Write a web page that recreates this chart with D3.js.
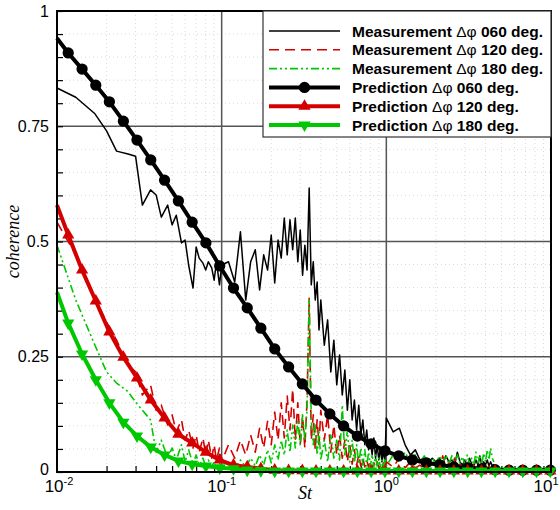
<!DOCTYPE html>
<html>
<head>
<meta charset="utf-8">
<script src="https://cdn.jsdelivr.net/npm/d3@7"></script>
<style>
  body { margin: 0; background: #fff; }
  svg { display: block; }
</style>
</head>
<body>
<svg id="chart" width="560" height="510"></svg>
<script>

// prediction curves, sampled at the marker positions (St)
var stPred = [0.0100, 0.0117, 0.0142, 0.0172, 0.0208, 0.0253, 0.0306, 0.0371, 0.0450, 0.0546,
    0.0662, 0.0802, 0.0973, 0.118, 0.143, 0.173, 0.210, 0.255, 0.309, 0.374,
    0.454, 0.550, 0.667, 0.809, 0.981, 1.19, 1.44, 1.75, 2.12, 2.57,
    3.12, 3.78, 4.58, 5.56, 6.74, 8.17, 9.90];
var pred060 = [0.941, 0.909, 0.874, 0.839, 0.803, 0.761, 0.720, 0.677, 0.633, 0.588,
    0.542, 0.497, 0.447, 0.399, 0.356, 0.312, 0.267, 0.228, 0.191, 0.156,
    0.126, 0.100, 0.078, 0.061, 0.046, 0.035, 0.026, 0.020, 0.015, 0.011,
    0.009, 0.007, 0.005, 0.004, 0.004, 0.004, 0.004];
var pred120 = [0.579, 0.514, 0.438, 0.371, 0.304, 0.249, 0.204, 0.156, 0.117, 0.082,
    0.063, 0.043, 0.026, 0.015, 0.011, 0.007, 0.004, 0.003, 0.003, 0.002,
    0.002, 0.002, 0.002, 0.002, 0.002, 0.002, 0.002, 0.002, 0.002, 0.002,
    0.002, 0.002, 0.002, 0.002, 0.002, 0.002, 0.002];
var pred180 = [0.390, 0.323, 0.256, 0.200, 0.150, 0.108, 0.078, 0.054, 0.037, 0.024,
    0.017, 0.013, 0.009, 0.007, 0.004, 0.003, 0.002, 0.002, 0.002, 0.002,
    0.002, 0.002, 0.002, 0.002, 0.002, 0.002, 0.002, 0.002, 0.002, 0.002,
    0.002, 0.002, 0.002, 0.002, 0.002, 0.002, 0.002];

// measured spectra
var stMeas = [0.010, 0.013, 0.017, 0.020, 0.023, 0.027, 0.030, 0.033, 0.037, 0.040,
    0.043, 0.047, 0.050, 0.053, 0.057, 0.060, 0.063, 0.067, 0.070, 0.073,
    0.077, 0.080, 0.083, 0.087, 0.090, 0.093, 0.097,
    0.10, 0.11, 0.12, 0.13, 0.14, 0.15, 0.16, 0.17, 0.18, 0.19,
    0.20, 0.21, 0.22, 0.23, 0.24, 0.25, 0.26, 0.27, 0.28, 0.29,
    0.30, 0.31, 0.32, 0.33, 0.34, 0.35, 0.36, 0.37, 0.38, 0.39, 0.40,
    0.42, 0.44, 0.46, 0.48, 0.50, 0.52, 0.54, 0.56, 0.58, 0.60,
    0.62, 0.64, 0.66, 0.68, 0.70, 0.72, 0.74, 0.76, 0.78, 0.80,
    0.82, 0.84, 0.86, 0.88, 0.90, 0.92, 0.94, 0.96, 0.98, 1.00,
    1.1, 1.2, 1.3, 1.4, 1.5, 1.6, 1.7, 1.8, 1.9, 2.0,
    2.1, 2.2, 2.3, 2.4, 2.5, 2.6, 2.7, 2.8, 2.9, 3.0,
    3.1, 3.2, 3.3, 3.4, 3.5, 3.6, 3.7, 3.8, 3.9, 4.0,
    4.1, 4.2, 4.3, 4.4, 4.5];
var meas060 = [0.833, 0.813, 0.777, 0.740, 0.696, 0.690, 0.685, 0.579, 0.612, 0.601,
    0.553, 0.579, 0.536, 0.557, 0.497, 0.503, 0.449, 0.399, 0.488, 0.464,
    0.453, 0.438, 0.456, 0.443, 0.416, 0.456, 0.406,
    0.449, 0.456, 0.412, 0.521, 0.373, 0.456, 0.482, 0.395, 0.471, 0.438,
    0.514, 0.410, 0.503, 0.464, 0.551, 0.471, 0.547, 0.482, 0.551, 0.456,
    0.525, 0.427, 0.492, 0.438, 0.616, 0.406, 0.456, 0.373, 0.412, 0.308, 0.373,
    0.275, 0.330, 0.217, 0.286, 0.189, 0.254, 0.167, 0.221, 0.134, 0.200,
    0.113, 0.156, 0.091, 0.145, 0.080, 0.113, 0.059, 0.091, 0.048, 0.069,
    0.037, 0.074, 0.030, 0.059, 0.026, 0.052, 0.022, 0.048, 0.022, 0.117,
    0.087, 0.095, 0.059, 0.037, 0.048, 0.026, 0.030, 0.020, 0.030, 0.022,
    0.030, 0.017, 0.035, 0.022, 0.026, 0.015, 0.043, 0.022, 0.015, 0.026,
    0.013, 0.030, 0.017, 0.013, 0.026, 0.015, 0.035, 0.013, 0.022, 0.015,
    0.026, 0.013, 0.022, 0.013, 0.017];
var meas120 = [0.542, 0.471, 0.377, 0.325, 0.286, 0.232, 0.217, 0.167, 0.189, 0.134,
    0.145, 0.102, 0.124, 0.087, 0.113, 0.069, 0.091, 0.052, 0.080, 0.043,
    0.074, 0.037, 0.069, 0.030, 0.059, 0.026, 0.052,
    0.022, 0.059, 0.030, 0.069, 0.037, 0.080, 0.043, 0.095, 0.052, 0.110,
    0.059, 0.130, 0.069, 0.150, 0.074, 0.165, 0.091, 0.180, 0.069, 0.150,
    0.059, 0.120, 0.052, 0.156, 0.377, 0.069, 0.124, 0.048, 0.113, 0.059, 0.134,
    0.069, 0.124, 0.043, 0.102, 0.037, 0.080, 0.030, 0.069, 0.022, 0.059,
    0.017, 0.048, 0.015, 0.037, 0.013, 0.030, 0.011, 0.026, 0.011, 0.022,
    0.009, 0.020, 0.009, 0.022, 0.009, 0.017, 0.007, 0.020, 0.009, 0.022,
    0.011, 0.030, 0.009, 0.022, 0.009, 0.015, 0.007, 0.022, 0.009, 0.015,
    0.007, 0.035, 0.009, 0.020, 0.007, 0.030, 0.009, 0.017, 0.007, 0.015,
    0.007, 0.022, 0.009, 0.015, 0.007, 0.017, 0.009, 0.015, 0.007, 0.017,
    0.007, 0.013, 0.007, 0.013, 0.009];
var meas180 = [0.492, 0.373, 0.275, 0.217, 0.193, 0.174, 0.152, 0.134, 0.113, 0.043,
    0.069, 0.030, 0.052, 0.026, 0.059, 0.022, 0.048, 0.017, 0.037, 0.015,
    0.030, 0.013, 0.026, 0.011, 0.022, 0.009, 0.020,
    0.009, 0.022, 0.009, 0.026, 0.011, 0.030, 0.013, 0.037, 0.015, 0.048,
    0.020, 0.059, 0.026, 0.069, 0.037, 0.091, 0.043, 0.102, 0.052, 0.113,
    0.059, 0.124, 0.069, 0.134, 0.373, 0.113, 0.059, 0.102, 0.037, 0.087, 0.026,
    0.069, 0.022, 0.080, 0.030, 0.069, 0.026, 0.145, 0.037, 0.091, 0.022,
    0.069, 0.020, 0.059, 0.017, 0.052, 0.015, 0.048, 0.013, 0.043, 0.013,
    0.037, 0.011, 0.037, 0.011, 0.030, 0.011, 0.026, 0.009, 0.030, 0.013,
    0.037, 0.022, 0.043, 0.022, 0.037, 0.020, 0.035, 0.017, 0.030, 0.017,
    0.035, 0.020, 0.037, 0.017, 0.035, 0.017, 0.037, 0.020, 0.033, 0.015,
    0.037, 0.017, 0.030, 0.015, 0.043, 0.020, 0.037, 0.017, 0.041, 0.022,
    0.048, 0.026, 0.052, 0.030, 0.022];

var yTicks = [0, 0.25, 0.5, 0.75, 1];
var yTickLabels = ["0", "0.25", "0.5", "0.75", "1"];
var xDecades = [0.01, 0.1, 1, 10];
var xDecadeExp = ["-2", "-1", "0", "1"];

var legendLabels = ["060", "120", "180", "060", "120", "180"];

var red = "#d40000", green = "#00c800";

var margin = { top: 11, right: 9, bottom: 38, left: 57 },
    width = 560 - margin.left - margin.right,
    height = 510 - margin.top - margin.bottom;

var x = d3.scaleLog().domain([0.01, 10]).range([0, width]);
var y = d3.scaleLinear().domain([0, 1]).range([height, 0]);

var svg = d3.select("#chart")
    .append("g")
    .attr("transform", "translate(" + margin.left + "," + margin.top + ")");

// faint dotted minor grid
var minorX = x.ticks().filter(function (d) { return xDecades.indexOf(d) < 0; });
var minorY = d3.range(0.05, 1, 0.05).filter(function (d) { return Math.abs(d * 4 - Math.round(d * 4)) > 1e-6; });

svg.append("g").selectAll("line").data(minorX).join("line")
    .attr("x1", d => x(d)).attr("x2", d => x(d))
    .attr("y1", 0).attr("y2", height)
    .attr("stroke", "#cfcfcf").attr("stroke-width", 0.8).attr("stroke-dasharray", "1,3");
svg.append("g").selectAll("line").data(minorY).join("line")
    .attr("y1", d => y(d)).attr("y2", d => y(d))
    .attr("x1", 0).attr("x2", width)
    .attr("stroke", "#cfcfcf").attr("stroke-width", 0.8).attr("stroke-dasharray", "1,3");

// major grid
svg.append("g").selectAll("line").data([0.1, 1]).join("line")
    .attr("x1", d => x(d)).attr("x2", d => x(d))
    .attr("y1", 0).attr("y2", height)
    .attr("stroke", "#555").attr("stroke-width", 1.5);
svg.append("g").selectAll("line").data([0.25, 0.5, 0.75]).join("line")
    .attr("y1", d => y(d)).attr("y2", d => y(d))
    .attr("x1", 0).attr("x2", width)
    .attr("stroke", "#555").attr("stroke-width", 1.5);

// ticks pointing inward
var yAxis = d3.axisRight(y).tickValues(d3.range(0, 1.0001, 0.05)).tickSize(6).tickFormat("");
svg.append("g").attr("class", "y axis").call(yAxis)
    .call(g => g.select(".domain").remove())
    .selectAll("line").attr("stroke", "#000").attr("stroke-width", 1.2);

var xAxis = d3.axisTop(x).tickValues(minorX).tickSize(6).tickFormat("");
svg.append("g").attr("class", "x axis")
    .attr("transform", "translate(0," + height + ")")
    .call(xAxis)
    .call(g => g.select(".domain").remove())
    .selectAll("line").attr("stroke", "#000").attr("stroke-width", 1.2);

var plot = svg.append("g");

var lineMeas = d3.line()
    .x(d => x(d[0]))
    .y(d => y(d[1]));

function measLine(vals, color, dash, w) {
    plot.append("path")
        .datum(d3.zip(stMeas, vals))
        .attr("d", lineMeas)
        .attr("fill", "none")
        .attr("stroke", color)
        .attr("stroke-width", w)
        .attr("stroke-dasharray", dash)
        .attr("stroke-linejoin", "round");
}

measLine(meas060, "#000", null, 1.5);
measLine(meas120, red, "10,6", 1.6);
measLine(meas180, green, "8,3,2,3,2,3", 1.6);

var circ = d3.symbol().type(d3.symbolCircle).size(100);
var triUp = d3.symbol().type(d3.symbolTriangle).size(65);

function predLine(vals, color, kind) {
    var pts = d3.zip(stPred, vals);
    plot.append("path")
        .datum(pts)
        .attr("d", lineMeas)
        .attr("fill", "none")
        .attr("stroke", color)
        .attr("stroke-width", 4)
        .attr("stroke-linejoin", "round");
    plot.append("g").selectAll("path").data(pts.slice(1)).join("path")
        .attr("d", kind === "circle" ? circ : triUp)
        .attr("transform", function (d) {
            return "translate(" + x(d[0]) + "," + y(d[1]) + ")" + (kind === "down" ? " rotate(180)" : "");
        })
        .attr("fill", color);
}

predLine(pred060, "#000", "circle");
predLine(pred120, red, "up");
predLine(pred180, green, "down");

// frame
svg.append("rect")
    .attr("width", width).attr("height", height)
    .attr("fill", "none").attr("stroke", "#000").attr("stroke-width", 2);

// tick labels
svg.append("g").selectAll("text").data(yTicks).join("text")
    .attr("x", -8)
    .attr("y", d => y(d) - (d === 0 ? 3 : 0))
    .attr("dy", "0.35em")
    .attr("text-anchor", "end")
    .style("font-family", "Liberation Sans, Arial, sans-serif")
    .style("font-size", "16px")
    .text((d, i) => yTickLabels[i]);

var xl = svg.append("g").selectAll("text").data(xDecades).join("text")
    .attr("x", (d, i) => x(d) + (i === 0 ? 2 : i === 3 ? -5 : 0))
    .attr("y", height + 20)
    .attr("text-anchor", "middle")
    .style("font-family", "Liberation Sans, Arial, sans-serif")
    .style("font-size", "17px");
xl.append("tspan").text("10");
xl.append("tspan")
    .attr("dy", -7)
    .style("font-size", "11px")
    .text((d, i) => xDecadeExp[i]);

// axis titles
svg.append("text")
    .attr("x", 241).attr("y", height + 27)
    .style("font-family", "Liberation Serif, Times New Roman, serif")
    .style("font-style", "italic")
    .style("font-size", "18px")
    .text("St");

svg.append("text")
    .attr("transform", "translate(-38," + y(0.5) + ") rotate(-90)")
    .attr("text-anchor", "middle")
    .style("font-family", "Liberation Serif, Times New Roman, serif")
    .style("font-style", "italic")
    .style("font-size", "18px")
    .text("coherence");

// legend
var lgX = 206, lgW = width - lgX, lgH = 126;
var legend = svg.append("g").attr("transform", "translate(" + lgX + ",0)");
legend.append("rect")
    .attr("width", lgW).attr("height", lgH)
    .attr("fill", "#fff").attr("stroke", "#333").attr("stroke-width", 1.2);

var legendItems = [
    { name: "Measurement", color: "#000", dash: null, w: 1.5, mark: null },
    { name: "Measurement", color: red, dash: "10,6", w: 1.6, mark: null },
    { name: "Measurement", color: green, dash: "8,3,2,3,2,3", w: 1.6, mark: null },
    { name: "Prediction", color: "#000", dash: null, w: 4, mark: "circle" },
    { name: "Prediction", color: red, dash: null, w: 4, mark: "up" },
    { name: "Prediction", color: green, dash: null, w: 4, mark: "down" }
];

var rows = legend.selectAll("g.row").data(legendItems).join("g")
    .attr("class", "row")
    .attr("transform", (d, i) => "translate(0," + (20 + i * 18.8) + ")");

rows.append("line")
    .attr("x1", 6).attr("x2", 77)
    .attr("stroke", d => d.color)
    .attr("stroke-width", d => d.w)
    .attr("stroke-dasharray", d => d.dash);

rows.filter(d => d.mark).append("path")
    .attr("d", d => d.mark === "circle" ? circ() : triUp())
    .attr("transform", d => "translate(41.5,0)" + (d.mark === "down" ? " rotate(180)" : ""))
    .attr("fill", d => d.color);

var lt = rows.append("text")
    .attr("x", 89)
    .attr("dy", "0.36em")
    .style("font-family", "Liberation Sans, Arial, sans-serif")
    .style("font-size", "15.5px")
    .style("font-weight", "bold");
lt.append("tspan").text(d => d.name + " ");
lt.append("tspan").style("font-weight", "normal").text("\u0394\u03c6");
lt.append("tspan").text((d, i) => " " + legendLabels[i] + " deg.");

</script>
</body>
</html>
